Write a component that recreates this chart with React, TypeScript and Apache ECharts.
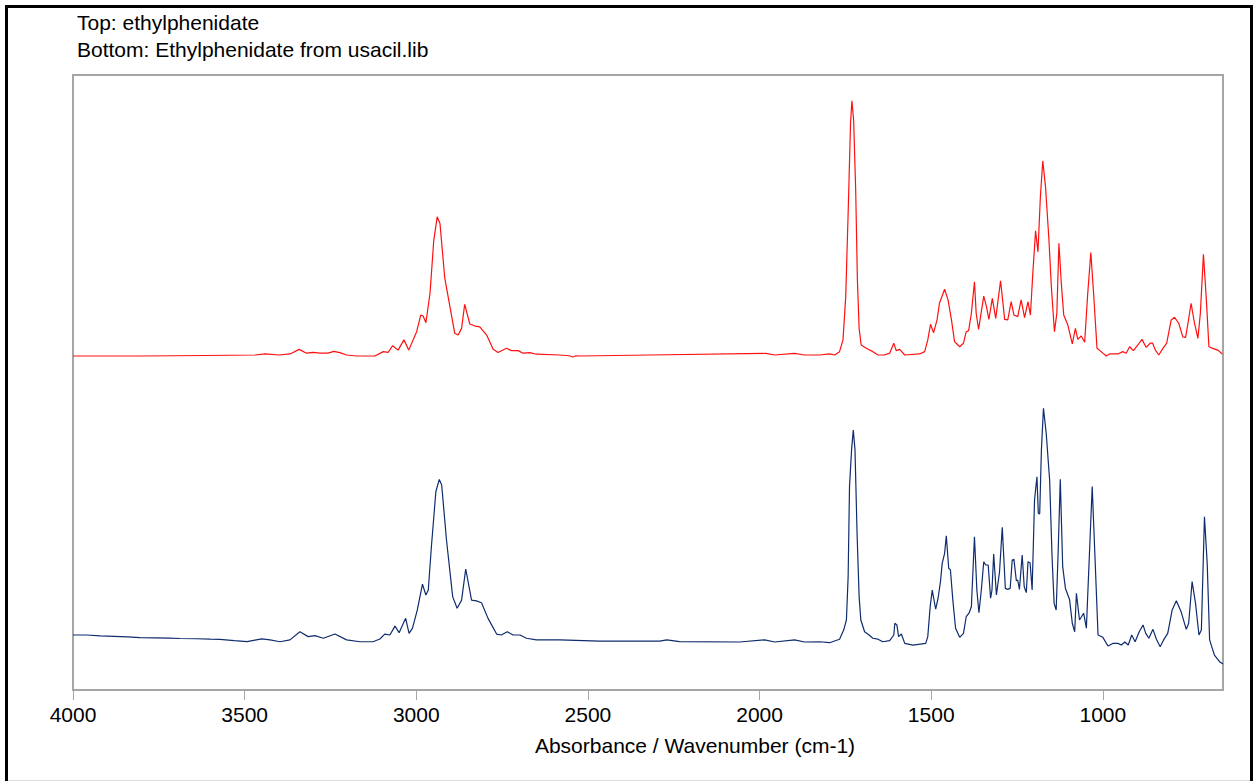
import React, { useEffect, useRef } from "react";
import * as echarts from "echarts";

const headerLines = ["Top: ethylphenidate", "Bottom: Ethylphenidate from usacil.lib"];
const axisTitle = "Absorbance / Wavenumber (cm-1)";
const xTicks = [4000, 3500, 3000, 2500, 2000, 1500, 1000];

// [wavenumber (cm-1), relative absorbance]
const topSpectrum: [number, number][] = [
  [4000, 0], [3800, 0], [3616, 0.002], [3470, 0.004], [3440, 0.008], [3400, 0.004], [3368, 0.008], [3341, 0.026],
  [3320, 0.011], [3300, 0.014], [3281, 0.011], [3257, 0.011], [3240, 0.018], [3223, 0.013], [3203, 0.004],
  [3174, 0], [3121, 0], [3096, 0.017], [3082, 0.014], [3069, 0.04], [3053, 0.023], [3036, 0.063], [3022, 0.023],
  [2999, 0.095], [2987, 0.16], [2980, 0.156], [2972, 0.13], [2960, 0.245], [2949, 0.453], [2939, 0.544],
  [2931, 0.518], [2917, 0.304], [2902, 0.193], [2888, 0.089], [2878, 0.082], [2868, 0.108], [2859, 0.202],
  [2844, 0.125], [2829, 0.117], [2815, 0.114], [2795, 0.082], [2776, 0.026], [2762, 0.014], [2737, 0.03],
  [2723, 0.021], [2703, 0.021], [2689, 0.011], [2669, 0.013], [2650, 0.007], [2582, 0.004], [2555, 0.001],
  [2544, -0.004], [2535, 0.001], [2524, 0], [2320, 0.004], [1982, 0.01], [1956, 0.004], [1898, 0.01], [1869, 0.004],
  [1825, 0.004], [1796, 0.008], [1781, 0.004], [1767, 0.017], [1757, 0.063], [1749, 0.232], [1742, 0.557],
  [1735, 0.909], [1731, 0.997], [1726, 0.922], [1720, 0.648], [1715, 0.297], [1710, 0.108], [1704, 0.043],
  [1689, 0.03], [1670, 0.017], [1655, 0.004], [1636, 0.004], [1621, 0.011], [1609, 0.05], [1602, 0.021],
  [1592, 0.026], [1577, 0.004], [1534, 0.008], [1519, 0.017], [1510, 0.063], [1502, 0.124], [1493, 0.091],
  [1483, 0.141], [1476, 0.206], [1461, 0.261], [1451, 0.219], [1441, 0.141], [1432, 0.056], [1417, 0.036],
  [1406, 0.05], [1398, 0.095], [1391, 0.099], [1383, 0.167], [1374, 0.29], [1369, 0.167], [1362, 0.104],
  [1347, 0.234], [1339, 0.193], [1332, 0.143], [1322, 0.225], [1312, 0.147], [1298, 0.294], [1286, 0.143],
  [1277, 0.141], [1267, 0.212], [1259, 0.16], [1248, 0.154], [1238, 0.219], [1228, 0.15], [1218, 0.212],
  [1211, 0.16], [1204, 0.323], [1196, 0.489], [1189, 0.407], [1182, 0.622], [1175, 0.762], [1167, 0.661],
  [1157, 0.453], [1150, 0.271], [1141, 0.095], [1134, 0.167], [1128, 0.44], [1121, 0.284], [1114, 0.16],
  [1102, 0.121], [1089, 0.047], [1080, 0.108], [1073, 0.065], [1063, 0.078], [1053, 0.054], [1044, 0.245],
  [1035, 0.404], [1027, 0.245], [1017, 0.03], [1005, 0.017], [990, 0], [980, 0.008], [956, 0.008], [942, 0.017],
  [932, 0.011], [922, 0.036], [911, 0.021], [898, 0.043], [886, 0.065], [874, 0.034], [862, 0.05], [855, 0.05],
  [847, 0.023], [837, 0.004], [825, 0.03], [814, 0.05], [801, 0.141], [791, 0.151], [779, 0.128], [767, 0.075],
  [759, 0.073], [752, 0.128], [743, 0.206], [733, 0.128], [723, 0.069], [716, 0.167], [707, 0.397], [699, 0.232],
  [691, 0.036], [680, 0.03], [665, 0.023], [652, 0.008],
];

const bottomSpectrum: [number, number][] = [
  [4000, 0.03], [3960, 0.03], [3921, 0.026], [3880, 0.024], [3840, 0.022], [3805, 0.019], [3760, 0.018],
  [3720, 0.017], [3688, 0.015], [3640, 0.014], [3600, 0.012], [3572, 0.011], [3530, 0.006], [3493, 0.002],
  [3470, 0.008], [3450, 0.013], [3426, 0.009], [3397, 0.001], [3368, 0.009], [3339, 0.044], [3315, 0.023],
  [3295, 0.027], [3271, 0.016], [3237, 0.034], [3203, 0.009], [3164, 0.001], [3126, 0.001], [3106, 0.013],
  [3092, 0.034], [3077, 0.03], [3062, 0.068], [3050, 0.04], [3031, 0.101], [3021, 0.037], [3011, 0.059],
  [2997, 0.137], [2982, 0.247], [2972, 0.201], [2965, 0.222], [2956, 0.407], [2943, 0.642], [2933, 0.695],
  [2926, 0.671], [2912, 0.436], [2894, 0.194], [2881, 0.144], [2868, 0.179], [2856, 0.312], [2839, 0.179],
  [2825, 0.176], [2810, 0.168], [2791, 0.101], [2766, 0.034], [2752, 0.03], [2735, 0.044], [2718, 0.03],
  [2698, 0.03], [2679, 0.016], [2650, 0.009], [2582, 0.009], [2466, 0.004], [2291, 0.004], [2270, 0.009],
  [2233, 0.002], [2058, 0], [1985, 0.009], [1956, 0], [1898, 0.009], [1869, 0], [1825, 0.001], [1796, -0.003],
  [1767, 0.012], [1755, 0.051], [1747, 0.094], [1742, 0.279], [1738, 0.664], [1732, 0.821], [1727, 0.906],
  [1722, 0.821], [1716, 0.465], [1710, 0.194], [1705, 0.094], [1694, 0.044], [1681, 0.03], [1670, 0.016],
  [1655, 0.012], [1641, 0.001], [1621, 0.006], [1609, 0.03], [1606, 0.08], [1600, 0.073], [1595, 0.023],
  [1587, 0.034], [1577, -0.006], [1553, -0.013], [1516, -0.006], [1510, 0.023], [1503, 0.151], [1497, 0.222],
  [1487, 0.14], [1480, 0.187], [1473, 0.258], [1468, 0.336], [1461, 0.379], [1456, 0.454], [1449, 0.315],
  [1444, 0.308], [1437, 0.179], [1429, 0.059], [1417, 0.02], [1406, 0.037], [1398, 0.108], [1390, 0.123],
  [1383, 0.151], [1374, 0.45], [1367, 0.222], [1361, 0.125], [1354, 0.222], [1347, 0.343], [1341, 0.329],
  [1334, 0.329], [1327, 0.187], [1323, 0.222], [1318, 0.376], [1310, 0.201], [1301, 0.3], [1293, 0.49],
  [1284, 0.229], [1277, 0.225], [1270, 0.229], [1264, 0.35], [1259, 0.353], [1252, 0.262], [1248, 0.265],
  [1243, 0.225], [1235, 0.372], [1229, 0.236], [1223, 0.211], [1218, 0.343], [1212, 0.339], [1206, 0.222],
  [1199, 0.607], [1192, 0.706], [1188, 0.55], [1184, 0.547], [1179, 0.821], [1173, 0.999], [1165, 0.892],
  [1155, 0.692], [1148, 0.365], [1142, 0.165], [1136, 0.137], [1130, 0.393], [1124, 0.695], [1117, 0.322],
  [1109, 0.229], [1097, 0.182], [1089, 0.08], [1082, 0.044], [1077, 0.208], [1068, 0.094], [1056, 0.123],
  [1048, 0.059], [1039, 0.379], [1031, 0.664], [1023, 0.365], [1014, 0.03], [1000, 0.02], [985, -0.017],
  [971, -0.006], [956, -0.006], [946, -0.013], [936, 0], [926, -0.013], [916, 0.03], [906, 0.001], [894, 0.044],
  [883, 0.073], [875, 0.037], [866, 0.016], [854, 0.054], [844, 0.012], [833, -0.02], [823, 0.009], [811, 0.037],
  [798, 0.137], [786, 0.176], [772, 0.129], [757, 0.054], [750, 0.08], [740, 0.258], [730, 0.165], [720, 0.03],
  [713, 0.051], [704, 0.535], [696, 0.336], [689, 0.009], [675, -0.056], [660, -0.084], [650, -0.094],
];

const FONT = "'Liberation Sans', Arial, sans-serif";

export default function App() {
  const ref = useRef<HTMLDivElement>(null);
  useEffect(() => {
    const chart = echarts.init(ref.current!, null, { renderer: "svg" });
    chart.setOption({
      animation: false,
      backgroundColor: "#ffffff",
      grid: {
        left: 73,
        top: 75,
        right: 34,
        bottom: 92,
        show: true,
        borderColor: "#a6a6a6",
        borderWidth: 2,
        backgroundColor: "transparent",
      },
      xAxis: {
        type: "value",
        inverse: true,
        min: 650,
        max: 4000,
        axisLine: { show: false, onZero: false },
        splitLine: { show: false },
        axisTick: {
          show: true,
          inside: false,
          length: 10,
          customValues: xTicks,
          lineStyle: { color: "#a6a6a6", width: 1 },
        },
        axisLabel: {
          customValues: xTicks,
          margin: 14,
          fontFamily: FONT,
          fontSize: 21,
          color: "#000",
          formatter: (v: number) => String(v),
        },
      },
      yAxis: [
        { type: "value", show: false, min: -1.3047, max: 1.0977, splitLine: { show: false } },
        { type: "value", show: false, min: -0.2051, max: 2.4231, splitLine: { show: false } },
      ],
      series: [
        {
          type: "line",
          name: "Top",
          data: topSpectrum,
          yAxisIndex: 0,
          symbol: "none",
          lineStyle: { color: "#ff1010", width: 1.2 },
        },
        {
          type: "line",
          name: "Bottom",
          data: bottomSpectrum,
          yAxisIndex: 1,
          symbol: "none",
          lineStyle: { color: "#0f2c6e", width: 1.2 },
        },
      ],
      graphic: [
        { type: "line", shape: { x1: 6.5, y1: 5, x2: 6.5, y2: 781 }, style: { stroke: "#000", lineWidth: 3 } },
        { type: "line", shape: { x1: 5, y1: 6.5, x2: 1253, y2: 6.5 }, style: { stroke: "#000", lineWidth: 3 } },
        { type: "line", shape: { x1: 1251.5, y1: 5, x2: 1251.5, y2: 781 }, style: { stroke: "#000", lineWidth: 3 } },
        { type: "line", shape: { x1: 8, y1: 780.5, x2: 1250, y2: 780.5 }, style: { stroke: "#dddddd", lineWidth: 1 } },
        {
          type: "text",
          x: 77,
          y: 22.7,
          style: { text: headerLines[0], font: `21px ${FONT}`, fill: "#000", verticalAlign: "middle", align: "left" },
        },
        {
          type: "text",
          x: 77,
          y: 49.7,
          style: { text: headerLines[1], font: `21px ${FONT}`, fill: "#000", verticalAlign: "middle", align: "left" },
        },
        {
          type: "text",
          x: 695,
          y: 745.7,
          style: { text: axisTitle, font: `21px ${FONT}`, fill: "#000", verticalAlign: "middle", align: "center" },
        },
      ],
    });
    return () => chart.dispose();
  }, []);
  return (
    <div
      ref={ref}
      style={{ position: "fixed", left: 0, top: 0, width: 1257, height: 782, background: "#fff" }}
    />
  );
}
